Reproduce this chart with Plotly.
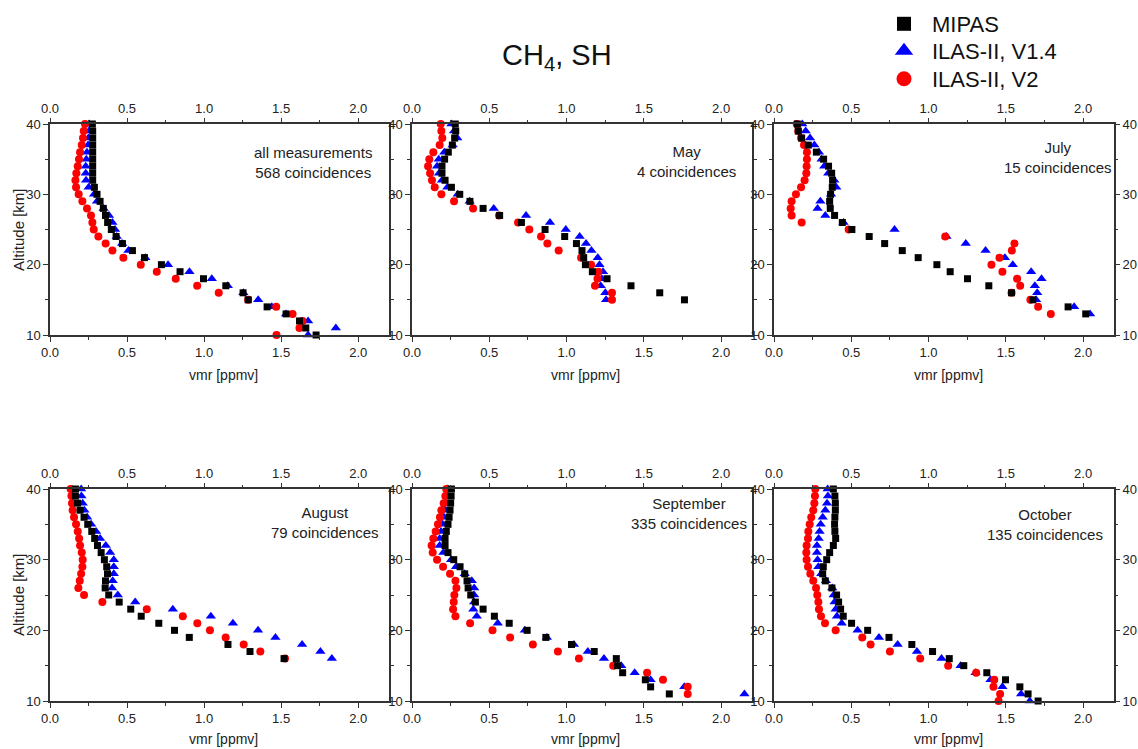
import plotly.graph_objects as go

W, H = 1138, 749

alt_top = list(range(40, 9, -1))  # 40..10

# ---------- Panel 1: all measurements ----------
p1_alt = alt_top
p1_mipas = [0.275, 0.277, 0.277, 0.277, 0.277, 0.277, 0.277, 0.277, 0.277, 0.288,
            0.305, 0.325, 0.346, 0.360, 0.374, 0.398, 0.429, 0.470, 0.535, 0.613,
            0.723, 0.844, 0.996, 1.141, 1.253, 1.286, 1.409, 1.532, 1.619, 1.660, 1.727]
p1_v14 = [0.255, 0.253, 0.249, 0.247, 0.240, 0.236, 0.232, 0.232, 0.234, 0.251,
          0.286, 0.305, 0.348, 0.383, 0.405, 0.422, 0.433, 0.468, 0.509, 0.619,
          0.766, 0.905, 1.050, 1.154, 1.255, 1.351, 1.439, 1.532, 1.675, 1.855, 1.675]
p1_v2 = [0.227, 0.219, 0.214, 0.206, 0.195, 0.188, 0.180, 0.171, 0.165, 0.169,
         0.186, 0.210, 0.240, 0.266, 0.275, 0.284, 0.314, 0.361, 0.405, 0.476,
         0.589, 0.693, 0.816, 0.955, 1.095, 1.286, 1.468, 1.574, 1.639, 1.619, 1.470]

# ---------- Panel 2: May ----------
p2_alt = list(range(40, 14, -1))  # 40..15
p2_mipas = [0.280, 0.283, 0.276, 0.261, 0.235, 0.211, 0.194, 0.194, 0.214, 0.255,
            0.309, 0.375, 0.460, 0.567, 0.708, 0.861, 0.988, 1.064, 1.100, 1.111,
            1.122, 1.167, 1.262, 1.417, 1.603, 1.763]
p2_v14 = [0.255, 0.272, 0.293, 0.263, 0.209, 0.173, 0.162, 0.175, 0.194, 0.229,
          0.296, 0.373, 0.529, 0.738, 0.893, 0.995, 1.085, 1.126, 1.161, 1.202,
          1.213, 1.236, 1.228, 1.221, 1.251, 1.256]
p2_v2 = [0.186, 0.190, 0.196, 0.179, 0.138, 0.112, 0.104, 0.117, 0.129, 0.147,
         0.190, 0.272, 0.395, 0.563, 0.686, 0.759, 0.835, 0.876, 0.949, 1.094,
         1.159, 1.206, 1.200, 1.184, 1.294, 1.294]

# ---------- Panel 3: July ----------
p3_alt = list(range(40, 12, -1))  # 40..13
p3_mipas = [0.151, 0.157, 0.179, 0.222, 0.274, 0.321, 0.353, 0.373, 0.379, 0.377,
            0.366, 0.360, 0.364, 0.392, 0.442, 0.504, 0.616, 0.716, 0.830, 0.933,
            1.054, 1.140, 1.252, 1.390, 1.537, 1.675, 1.903, 2.017]
p3_v14 = [0.183, 0.205, 0.233, 0.261, 0.291, 0.308, 0.325, 0.351, 0.390, 0.403,
          0.369, 0.300, 0.282, 0.332, 0.450, 0.780, 1.116, 1.241, 1.369, 1.494,
          1.545, 1.664, 1.731, 1.688, 1.703, 1.696, 1.942, 2.045]
p3_v2 = [0.147, 0.157, 0.175, 0.194, 0.213, 0.213, 0.211, 0.209, 0.198, 0.175,
         0.142, 0.114, 0.108, 0.114, 0.179, 0.483, 1.108, 1.556, 1.539, 1.459,
         1.407, 1.478, 1.573, 1.593, 1.537, 1.659, 1.709, 1.791]

# ---------- Panel 4: August ----------
p4_alt = list(range(40, 15, -1))  # 40..16
p4_mipas = [0.165, 0.165, 0.178, 0.195, 0.221, 0.245, 0.271, 0.290, 0.308, 0.332,
            0.353, 0.368, 0.373, 0.360, 0.358, 0.381, 0.449, 0.524, 0.592, 0.706,
            0.808, 0.904, 1.155, 1.298, 1.519]
p4_v14 = [0.202, 0.204, 0.212, 0.223, 0.241, 0.267, 0.299, 0.325, 0.362, 0.390,
          0.414, 0.414, 0.414, 0.407, 0.403, 0.440, 0.553, 0.797, 1.044, 1.187,
          1.350, 1.463, 1.636, 1.755, 1.829]
p4_v2 = [0.134, 0.139, 0.143, 0.147, 0.156, 0.169, 0.180, 0.189, 0.195, 0.206,
         0.212, 0.210, 0.202, 0.193, 0.184, 0.221, 0.340, 0.628, 0.862, 0.956,
         1.038, 1.140, 1.257, 1.365, 1.525]

# ---------- Panel 5: September ----------
p5_alt = list(range(40, 10, -1))  # 40..11
p5_mipas = [0.255, 0.253, 0.250, 0.246, 0.240, 0.233, 0.222, 0.214, 0.214, 0.233,
            0.270, 0.311, 0.341, 0.356, 0.363, 0.380, 0.410, 0.460, 0.533, 0.629,
            0.745, 0.866, 1.032, 1.179, 1.322, 1.330, 1.363, 1.510, 1.544, 1.665]
p5_v14 = [0.231, 0.225, 0.220, 0.216, 0.207, 0.199, 0.188, 0.179, 0.179, 0.203,
          0.253, 0.285, 0.341, 0.387, 0.402, 0.402, 0.402, 0.397, 0.419, 0.555,
          0.730, 0.873, 1.048, 1.138, 1.242, 1.354, 1.441, 1.544, 1.762, 2.151]
p5_v2 = [0.222, 0.216, 0.205, 0.190, 0.181, 0.168, 0.153, 0.138, 0.127, 0.134,
         0.162, 0.201, 0.246, 0.281, 0.287, 0.274, 0.270, 0.266, 0.281, 0.376,
         0.521, 0.635, 0.782, 0.944, 1.080, 1.302, 1.521, 1.624, 1.784, 1.784]

# ---------- Panel 6: October ----------
p6_alt = alt_top
p6_mipas = [0.384, 0.394, 0.397, 0.397, 0.394, 0.392, 0.394, 0.399, 0.384, 0.360,
            0.341, 0.319, 0.315, 0.332, 0.375, 0.405, 0.418, 0.431, 0.448, 0.502,
            0.606, 0.744, 0.892, 1.026, 1.134, 1.228, 1.377, 1.498, 1.591, 1.644, 1.709]
p6_v14 = [0.347, 0.349, 0.343, 0.332, 0.315, 0.302, 0.295, 0.289, 0.278, 0.278,
          0.282, 0.287, 0.306, 0.336, 0.377, 0.386, 0.392, 0.399, 0.407, 0.438,
          0.541, 0.679, 0.800, 0.925, 1.084, 1.207, 1.304, 1.401, 1.478, 1.599, 1.655]
p6_v2 = [0.267, 0.265, 0.261, 0.254, 0.241, 0.231, 0.222, 0.220, 0.211, 0.209,
         0.211, 0.220, 0.235, 0.254, 0.272, 0.280, 0.287, 0.291, 0.304, 0.330,
         0.399, 0.571, 0.625, 0.750, 0.946, 1.127, 1.308, 1.425, 1.420, 1.463, 1.453]

panel_labels = ["all measurements<br>568 coincidences", "May<br>4 coincidences",
                "July<br>15 coincidences", "August<br>79 coincidences",
                "September<br>335 coincidences", "October<br>135 coincidences"]

series_names = ["MIPAS", "ILAS-II, V1.4", "ILAS-II, V2"]
x_ticks = [0.0, 0.5, 1.0, 1.5, 2.0]
x_ticktext = ["0.0", "0.5", "1.0", "1.5", "2.0"]
y_ticks = [10, 20, 30, 40]

panels = [
    (p1_alt, p1_mipas, p1_v14, p1_v2),
    (p2_alt, p2_mipas, p2_v14, p2_v2),
    (p3_alt, p3_mipas, p3_v14, p3_v2),
    (p4_alt, p4_mipas, p4_v14, p4_v2),
    (p5_alt, p5_mipas, p5_v14, p5_v2),
    (p6_alt, p6_mipas, p6_v14, p6_v2),
]

# ---------- layout geometry (pixels) ----------
cols_px = [(50, 389), (412, 752), (774, 1114)]
rows_px = [(124, 335), (489, 701)]
label_pos = [(313, 162), (686, 161), (1058, 158), (325, 522), (689, 513), (1045, 524)]

FONT = "Liberation Sans, Arial, Helvetica, sans-serif"
LINE = "#333333"
CLEAR = "rgba(0,0,0,0)"

def px_x(p):
    return p / W

def px_y(p):
    return 1 - p / H

fig = go.Figure()

colors = {"MIPAS": "black", "ILAS-II, V1.4": "#0000ff", "ILAS-II, V2": "#ff0000"}
symbols = {"MIPAS": "square", "ILAS-II, V1.4": "triangle-up", "ILAS-II, V2": "circle"}
sizes = {"MIPAS": 7, "ILAS-II, V1.4": 9, "ILAS-II, V2": 8}

layout = {}
for i, (alt, mipas, v14, v2) in enumerate(panels):
    r, c = divmod(i, 3)
    n = i + 1
    xb = f"x{2*n-1}"
    yl = f"y{n}"
    for name, vals in (("ILAS-II, V1.4", v14), ("ILAS-II, V2", v2), ("MIPAS", mipas)):
        fig.add_trace(go.Scatter(
            x=vals, y=alt, mode="markers", name=name, showlegend=False,
            marker=dict(color=colors[name], symbol=symbols[name], size=sizes[name],
                        line=dict(width=0)),
            xaxis=xb, yaxis=yl, cliponaxis=False, hoverinfo="x+y+name"))
    x0, x1 = cols_px[c]
    y0, y1 = rows_px[r]
    xdom = [px_x(x0), px_x(x1)]
    ydom = [px_y(y1), px_y(y0)]
    common_x = dict(range=[0, 2.2], tickvals=x_ticks, ticktext=x_ticktext,
                    ticks="outside", ticklen=5, tickwidth=1.3, tickcolor=LINE,
                    minor=dict(tickvals=[0.25, 0.75, 1.25, 1.75], ticks="outside",
                               ticklen=3, tickwidth=1.2, tickcolor=LINE),
                    showgrid=False, zeroline=False,
                    tickfont=dict(family=FONT, size=13, color="#222"))
    layout[f"xaxis{2*n-1}"] = dict(domain=xdom, anchor=yl, side="bottom",
                                   showline=True, linecolor=LINE, linewidth=1.5,
                                   mirror=True, **common_x)
    layout[f"xaxis{2*n}"] = dict(overlaying=xb, anchor=yl, side="top",
                                 showline=False, matches=xb, **common_x)
    common_y = dict(range=[10, 40], tickvals=y_ticks, ticks="outside", ticklen=5,
                    tickwidth=1.3, tickcolor=LINE,
                    minor=dict(tickvals=[15, 25, 35], ticks="outside", ticklen=3,
                               tickwidth=1.2, tickcolor=LINE),
                    showgrid=False, zeroline=False,
                    tickfont=dict(family=FONT, size=13, color="#222"))
    layout[f"yaxis{n}"] = dict(domain=ydom, anchor=xb, side="left", showline=True,
                               linecolor=LINE, linewidth=1.5,
                               mirror=(True if c == 2 else "ticks"), **common_y)

# right-hand y axes for the third column
for k, n in ((7, 3), (8, 6)):
    layout[f"yaxis{k}"] = dict(overlaying=f"y{n}", anchor=f"x{2*n-1}", side="right",
                               showline=False, matches=f"y{n}",
                               range=[10, 40], tickvals=y_ticks, ticks="outside",
                               ticklen=5, tickwidth=1.3, tickcolor=LINE,
                               minor=dict(tickvals=[15, 25, 35], ticks="outside",
                                          ticklen=3, tickwidth=1.2, tickcolor=LINE),
                               showgrid=False, zeroline=False,
                               tickfont=dict(family=FONT, size=13, color="#222"))

# invisible traces so that the overlay axes are rendered
dummy_axes = [(f"x{2*i}", f"y{i}") for i in range(1, 7)] + [("x5", "y7"), ("x11", "y8")]
for xa, ya in dummy_axes:
    fig.add_trace(go.Scatter(x=[None], y=[None], xaxis=xa, yaxis=ya, mode="markers",
                             marker=dict(color=CLEAR, size=1), showlegend=False,
                             hoverinfo="skip"))

# legend entries: one small legend per row so spacing matches the reference;
# their single point lies far outside the axis range and is clipped away
legend_rows = [("MIPAS", 14, "legend", 3), ("ILAS-II, V1.4", 17, "legend2", 30),
               ("ILAS-II, V2", 15, "legend3", 58)]
legend_layout = {}
for name, sz, lg, top in legend_rows:
    fig.add_trace(go.Scatter(x=[-50], y=[-500], mode="markers", name=name,
                             marker=dict(color=colors[name], symbol=symbols[name], size=sz),
                             xaxis="x1", yaxis="y1", cliponaxis=True, hoverinfo="skip",
                             showlegend=True, legend=lg))
    legend_layout[lg] = dict(x=px_x(876), y=px_y(top), xanchor="left", yanchor="top",
                             font=dict(family=FONT, size=22, color="#111"),
                             bgcolor=CLEAR, itemsizing="trace", itemwidth=46)

annotations = []
for i, txt in enumerate(panel_labels):
    lx, ly = label_pos[i]
    annotations.append(dict(text=txt, x=px_x(lx), y=px_y(ly), xref="paper", yref="paper",
                            showarrow=False, xanchor="center", yanchor="middle",
                            align="center", font=dict(family=FONT, size=15, color="#222")))
# x axis titles
for r, ty in enumerate((375, 739)):
    for c in range(3):
        x0, x1 = cols_px[c]
        annotations.append(dict(text="vmr [ppmv]", x=px_x((x0 + x1) / 2 + 4), y=px_y(ty),
                                xref="paper", yref="paper", showarrow=False,
                                xanchor="center", yanchor="middle",
                                font=dict(family=FONT, size=14, color="#222")))
# y axis titles
for ty in (230, 595):
    annotations.append(dict(text="Altitude [km]", x=px_x(18), y=px_y(ty), xref="paper",
                            yref="paper", showarrow=False, textangle=-90,
                            xanchor="center", yanchor="middle",
                            font=dict(family=FONT, size=15, color="#222")))
# main title
annotations.append(dict(text="CH<sub>4</sub>, SH", x=px_x(557), y=px_y(57), xref="paper",
                        yref="paper", showarrow=False, xanchor="center", yanchor="middle",
                        font=dict(family=FONT, size=29, color="#111")))

fig.update_layout(
    width=W, height=H, margin=dict(l=0, r=0, t=0, b=0, autoexpand=False),
    paper_bgcolor="white", plot_bgcolor="white",
    font=dict(family=FONT, color="#222"),
    showlegend=True,
    annotations=annotations,
    **legend_layout,
    **layout,
)

fig.write_html("out.html")
